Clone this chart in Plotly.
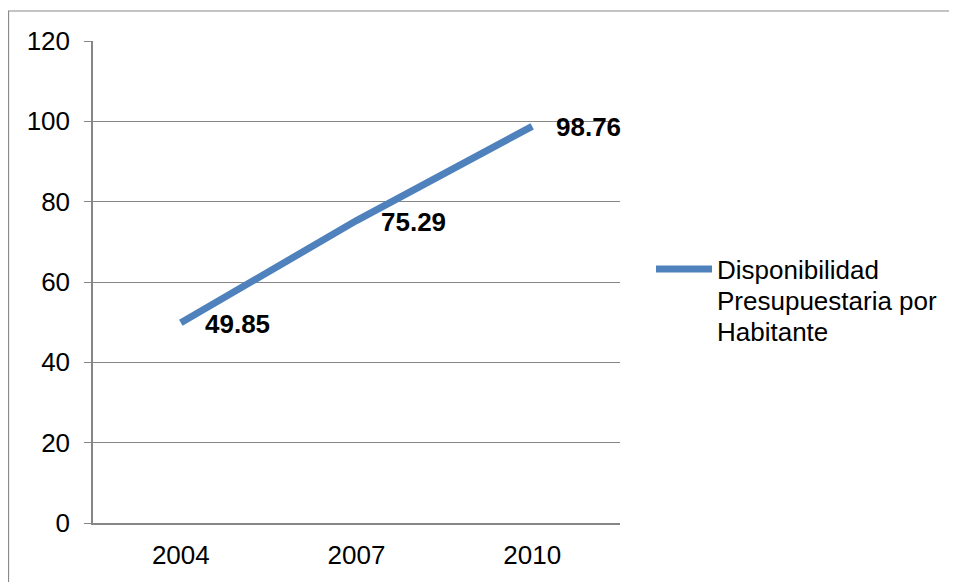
import plotly.graph_objects as go

years = ["2004", "2007", "2010"]
valores = [49.85, 75.29, 98.76]
serie = ["Disponibilidad", "Presupuestaria por", "Habitante"]

FONT = "Liberation Sans, Arial"
AZUL = "#4F81BD"
GRIS = "#868686"

# page has 8px body margin; figure runs past the window edge so the
# border reaches the right and bottom of the picture like the original
W, H = 957, 582
L, T = 85, 33
PW, PH = 527, 482

fig = go.Figure()

fig.add_trace(go.Scatter(
    x=[0, 1, 2], y=valores, mode="lines", name=" ".join(serie),
    line=dict(color=AZUL, width=7), showlegend=False,
))

# data labels, to the right of each point like Excel does
for i, v in enumerate(valores):
    fig.add_annotation(
        x=i, y=v, text="<b>%.2f</b>" % v, showarrow=False,
        xanchor="left", xshift=22, yshift=-1,
        font=dict(size=26, color="black", family=FONT),
    )

# outer chart border (only left and top are visible)
fig.add_shape(type="rect", xref="paper", yref="paper",
              x0=-L / PW + 0.001, x1=2.0, y0=-0.5, y1=1 + 30 / PH,
              line=dict(color="#8a8a8a", width=1.2), layer="below")

# legend drawn by hand: Excel's sample line is longer than plotly's
ly = 1 - (261 - T) / PH
fig.add_shape(type="line", xref="paper", yref="paper",
              x0=(648 - L) / PW, x1=(704 - L) / PW, y0=ly, y1=ly,
              line=dict(color=AZUL, width=7))
for k, linea in enumerate(serie):
    fig.add_annotation(
        xref="paper", yref="paper", x=(707 - L) / PW,
        y=1 - (262 + 31 * k - T) / PH,
        xanchor="left", yanchor="middle", align="left", showarrow=False,
        text=linea, font=dict(size=26, color="black", family=FONT),
    )

fig.update_layout(
    width=W, height=H,
    margin=dict(l=L, r=W - L - PW, t=T, b=H - T - PH),
    paper_bgcolor="white", plot_bgcolor="white",
    font=dict(family=FONT, size=26, color="black"),
    showlegend=False,
    xaxis=dict(
        range=[-0.5, 2.5], tickvals=[0, 1, 2], ticktext=years,
        showgrid=False, zeroline=False, showline=True,
        linecolor=GRIS, linewidth=1.5, ticks="",
        ticklabelstandoff=8, automargin=False,
    ),
    yaxis=dict(
        range=[0, 120], tickvals=[0, 20, 40, 60, 80, 100, 120],
        showgrid=True, gridcolor=GRIS, gridwidth=1,
        zeroline=False, showline=True, linecolor=GRIS, linewidth=1.5,
        ticks="outside", ticklen=7, tickcolor=GRIS,
        ticklabelstandoff=9, automargin=False,
    ),
)

fig.write_html("out.html")
